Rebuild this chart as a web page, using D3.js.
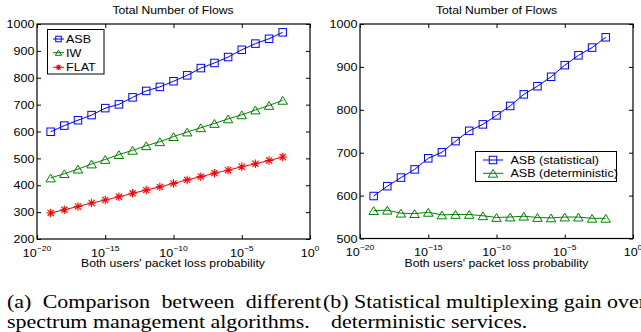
<!DOCTYPE html>
<html><head><meta charset="utf-8">
<script src="https://cdn.jsdelivr.net/npm/d3@7"></script>
<style>body{margin:0;background:#fff}svg{display:block}</style>
</head><body><svg id="c" width="641" height="332"></svg>
<script>
// ---- data ----
const exponents = [-19,-18,-17,-16,-15,-14,-13,-12,-11,-10,-9,-8,-7,-6,-5,-4,-3,-2];
const asb  = [599,622,642,661,687,701,727,751,766,787,809,836,855,877,904,927,945,969];
const iw   = [427,443,460,479,496,514,530,547,562,581,598,614,630,647,662,680,697,716];
const flat = [297,309,321,334,345,357,370,382,394,407,420,432,445,456,469,480,492,505];
const asbDet = [565,566,559,558,561,555,556,556,553,549,550,552,549,548,550,550,547,547];
const xTickExps = [-20,-15,-10,-5,0];
const yTicksA = [200,300,400,500,600,700,800,900,1000];
const yTicksB = [500,600,700,800,900,1000];
const titleText = "Total Number of Flows";
const xLabelText = "Both users' packet loss probability";
const legendA = ["ASB","IW","FLAT"];
const legendB = ["ASB (statistical)","ASB (deterministic)"];

const svg = d3.select("#c");
const FONT = "'Liberation Sans', Arial, Helvetica, sans-serif";
const SERIF = "'Liberation Serif', 'Times New Roman', Times, serif";
const SX = 1.22;   // horizontal stretch of the reference's glyphs
const FS = 10;
const BLUE = "#0000ff", GREEN = "#008000", RED = "#ff0000";

function stext(parent, x, y, txt, opts = {}) {
  const t = parent.append("text")
    .attr("transform", `translate(${x},${y}) scale(${opts.sx || SX},1)`)
    .attr("text-anchor", opts.anchor || "start")
    .attr("font-family", opts.family || FONT)
    .attr("font-size", opts.size || FS)
    .attr("fill", "#000");
  if (txt !== null) t.text(txt);
  return t;
}

function marker(g, type, cx, cy, color, s) {
  if (type === "square") {
    g.append("rect").attr("x", cx - s/2).attr("y", cy - s/2).attr("width", s).attr("height", s)
      .attr("fill", "none").attr("stroke", color).attr("stroke-width", 1);
  } else if (type === "tri") {
    const w = s * 1.15, h = s * 0.95;
    g.append("path").attr("d", `M${cx},${cy - h/2}L${cx + w/2},${cy + h/2}L${cx - w/2},${cy + h/2}Z`)
      .attr("fill", "none").attr("stroke", color).attr("stroke-width", 1);
  } else if (type === "star") {
    const r = s / 2, d = r * 0.72;
    g.append("path").attr("d", `M${cx - r},${cy}L${cx + r},${cy}M${cx},${cy - r}L${cx},${cy + r}M${cx - d},${cy - d}L${cx + d},${cy + d}M${cx - d},${cy + d}L${cx + d},${cy - d}`)
      .attr("fill", "none").attr("stroke", color).attr("stroke-width", 1.1);
  }
}

function panel(opts) {
  const {x0, x1, y0, y1, yDomain, yTicks, series, cx} = opts;
  const x = d3.scaleLog().domain([1e-20, 1]).range([x0, x1]);
  const y = d3.scaleLinear().domain(yDomain).range([y1, y0]);
  const g = svg.append("g");
  const xVals = xTickExps.map(e => Math.pow(10, e));

  series.forEach(s => {
    const pts = exponents.map((e, i) => [x(Math.pow(10, e)), y(s.values[i])]);
    g.append("path").attr("d", d3.line()(pts)).attr("fill", "none")
      .attr("stroke", s.color).attr("stroke-width", 1);
    pts.forEach(p => marker(g, s.marker, p[0], p[1], s.color, s.size));
  });

  const axB = g.append("g").attr("transform", `translate(0,${y1})`)
    .call(d3.axisBottom(x).tickValues(xVals).tickSize(-4).tickSizeOuter(0).tickFormat(""));
  const axT = g.append("g").attr("transform", `translate(0,${y0})`)
    .call(d3.axisTop(x).tickValues(xVals).tickSize(-4).tickSizeOuter(0).tickFormat(""));
  const axL = g.append("g").attr("transform", `translate(${x0},0)`)
    .call(d3.axisLeft(y).tickValues(yTicks).tickSize(-4).tickSizeOuter(0).tickPadding(2.5).tickFormat(d3.format("d")));
  const axR = g.append("g").attr("transform", `translate(${x1},0)`)
    .call(d3.axisRight(y).tickValues(yTicks).tickSize(-4).tickSizeOuter(0).tickFormat(""));
  [axB, axT, axL, axR].forEach(a => {
    a.select(".domain").remove();
    a.selectAll("line").attr("stroke", "#000");
  });
  axL.selectAll("text")
    .attr("font-family", FONT).attr("font-size", 10.3).attr("fill", "#000")
    .attr("transform", `scale(${SX},1)`)
    .attr("x", -2.5 / SX).attr("dy", "0.36em");

  g.append("rect").attr("x", x0).attr("y", y0).attr("width", x1 - x0).attr("height", y1 - y0)
    .attr("fill", "none").attr("stroke", "#000").attr("stroke-width", 1.2);

  xTickExps.forEach(e => {
    const t = stext(g, x(Math.pow(10, e)), y1 + 17.5, null, {anchor: "middle", size: 10.3});
    t.append("tspan").text("10");
    t.append("tspan").attr("font-size", 7).attr("dy", -6).text(e === 0 ? "0" : "\u2212" + Math.abs(e));
  });

  stext(g, cx, 13.5, titleText, {anchor: "middle"});
  stext(g, cx, 267, xLabelText, {anchor: "middle"});
  return g;
}

const seriesA = [
  {values: asb, color: BLUE, marker: "square", size: 7.5},
  {values: iw, color: GREEN, marker: "tri", size: 8.2},
  {values: flat, color: RED, marker: "star", size: 8.5}
];
const gA = panel({x0: 37, x1: 310, y0: 24, y1: 239, yDomain: [200, 1000], yTicks: yTicksA, series: seriesA, cx: 173});

(function(){
  const lg = gA.append("g");
  lg.append("rect").attr("x", 47.5).attr("y", 29.5).attr("width", 56.5).attr("height", 44.5)
    .attr("fill", "#fff").attr("stroke", "#000").attr("stroke-width", 1);
  const rows = [39, 52.7, 67.3];
  legendA.forEach((name, i) => {
    const s = seriesA[i];
    lg.append("line").attr("x1", 53).attr("x2", 64).attr("y1", rows[i]).attr("y2", rows[i])
      .attr("stroke", s.color).attr("stroke-width", 1);
    marker(lg, s.marker, 58.5, rows[i], s.color, 5.5);
    stext(lg, 66, rows[i] + 4, name, {size: 10.3});
  });
})();

const seriesB = [
  {values: asb, color: BLUE, marker: "square", size: 7.5},
  {values: asbDet, color: GREEN, marker: "tri", size: 8.2}
];
const gB = panel({x0: 360, x1: 633, y0: 24, y1: 238.5, yDomain: [500, 1000], yTicks: yTicksB, series: seriesB, cx: 496.5});

(function(){
  const lg = gB.append("g");
  lg.append("rect").attr("x", 475.5).attr("y", 151.5).attr("width", 141).attr("height", 30)
    .attr("fill", "#fff").attr("stroke", "#000").attr("stroke-width", 1);
  const rows = [160, 173.3];
  legendB.forEach((name, i) => {
    const s = seriesB[i];
    lg.append("line").attr("x1", 483).attr("x2", 503).attr("y1", rows[i]).attr("y2", rows[i])
      .attr("stroke", s.color).attr("stroke-width", 1);
    marker(lg, s.marker, 493, rows[i], s.color, s.size);
    stext(lg, 510.5, rows[i] + 4, name, {size: 10.3});
  });
})();

// captions
const CFS = 18;
function justified(words, xl, xr, yb) {
  const g = svg.append("g");
  const nodes = words.map(w => stext(g, 0, yb, w, {family: SERIF, size: CFS}));
  const widths = nodes.map(n => n.node().getComputedTextLength() * SX);
  const total = d3.sum(widths);
  const gap = (xr - xl - total) / (words.length - 1);
  let cur = xl;
  nodes.forEach((n, i) => { n.attr("transform", `translate(${cur},${yb}) scale(${SX},1)`); cur += widths[i] + gap; });
}
justified(["(a)", "Comparison", "between", "different"], 7, 321, 308);
stext(svg, 7, 327.5, "spectrum management algorithms.", {family: SERIF, size: CFS});
stext(svg, 323, 308, "(b) Statistical multiplexing gain over", {family: SERIF, size: CFS});
stext(svg, 331, 327.5, "deterministic services.", {family: SERIF, size: CFS});
</script></body></html>
